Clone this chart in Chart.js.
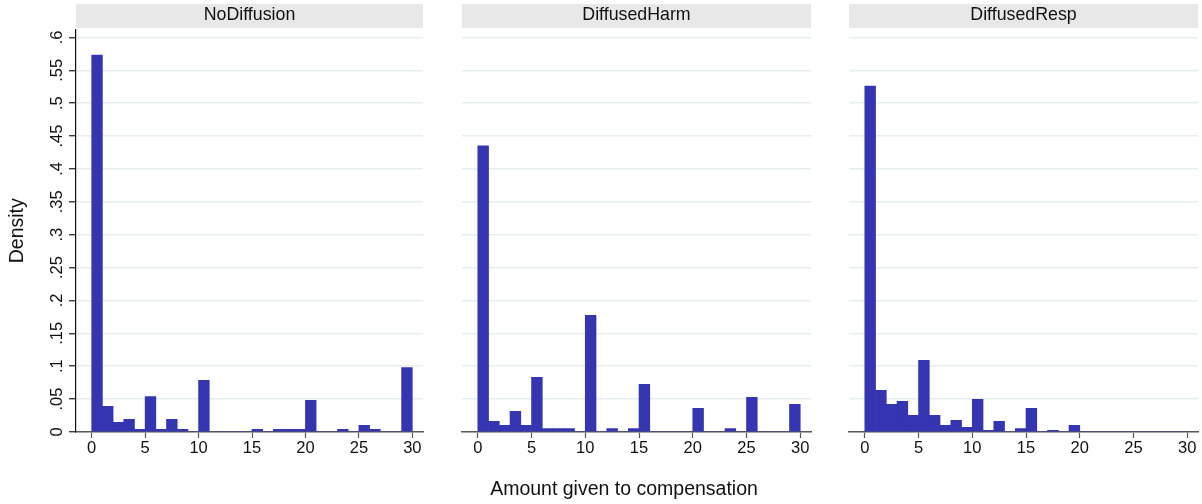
<!DOCTYPE html>
<html>
<head>
<meta charset="utf-8">
<title>Amount given to compensation</title>
<script src="https://cdn.jsdelivr.net/npm/chart.js@4.4.1/dist/chart.umd.min.js"></script>
<style>
  html, body { margin: 0; padding: 0; background: #ffffff; }
  #wrap { position: relative; width: 1202px; height: 504px; overflow: hidden; background: #ffffff; }
  #wrap canvas { position: absolute; left: 0; top: 0; }
</style>
</head>
<body>
<div id="wrap">
  <canvas id="panel1" width="1202" height="504"></canvas>
  <canvas id="panel2" width="1202" height="504"></canvas>
  <canvas id="panel3" width="1202" height="504"></canvas>
</div>
<script>
// Histogram bins (width 1, lower edges)
const binStarts = [0, 1, 2, 3, 4, 5, 6, 7, 8, 9, 10, 11, 12, 13, 14,
                   15, 16, 17, 18, 19, 20, 21, 22, 23, 24, 25, 26, 27, 28, 29];
const binWidth = 1;

// Density per bin for each treatment
const noDiffusion = [0.573, 0.039, 0.0148, 0.0193, 0.0041, 0.054, 0.0041, 0.0193, 0.0041, 0,
                     0.0787, 0, 0, 0, 0, 0.0041, 0, 0.0041, 0.0041, 0.0041,
                     0.048, 0, 0, 0.0041, 0, 0.0102, 0.0041, 0, 0, 0.098];
const diffusedHarm = [0.435, 0.0163, 0.0102, 0.0315, 0.0102, 0.0832, 0.0051, 0.0051, 0.0051, 0,
                      0.1775, 0, 0.0051, 0, 0.0051, 0.0726, 0, 0, 0, 0,
                      0.036, 0, 0, 0.0051, 0, 0.0528, 0, 0, 0, 0.042];
const diffusedResp = [0.526, 0.0634, 0.042, 0.0467, 0.0254, 0.109, 0.0254, 0.0102, 0.0178, 0.0071,
                      0.0497, 0.0025, 0.0163, 0, 0.0051, 0.036, 0, 0.0025, 0, 0.0102,
                      0, 0, 0, 0, 0, 0, 0, 0, 0, 0];

const panelTitles = ['NoDiffusion', 'DiffusedHarm', 'DiffusedResp'];
const panelSeries = [noDiffusion, diffusedHarm, diffusedResp];

// Axis ticks
const yTickValues = [0, 0.05, 0.1, 0.15, 0.2, 0.25, 0.3, 0.35, 0.4, 0.45, 0.5, 0.55, 0.6];
const yTickLabels = ['0', '.05', '.1', '.15', '.2', '.25', '.3', '.35', '.4', '.45', '.5', '.55', '.6'];
const xTickValues = [0, 5, 10, 15, 20, 25, 30];

const yAxisTitle = 'Density';
const xAxisTitle = 'Amount given to compensation';

// Layout of the three plot regions (pixels)
const W = 1202, H = 504;
const panelBounds = [[76, 423], [462, 811], [849, 1198]];
const plotTop = 29.5, plotBottom = 432, xAxisHeight = 30;

const FONT = "'Liberation Sans', Arial, Helvetica, sans-serif";
const barColor = 'rgb(53,53,178)';
const gridColor = '#e5eef0';
const yTickLen = 7;

// Grey strip with the panel name above each plot region
const panelHeader = {
  id: 'panelHeader',
  afterDraw(chart, args, opts) {
    const { ctx, chartArea } = chart;
    ctx.save();
    ctx.fillStyle = '#e8e8e8';
    ctx.fillRect(chartArea.left, 4, chartArea.right - chartArea.left, 24);
    ctx.fillStyle = '#111111';
    ctx.font = '17.8px ' + FONT;
    ctx.textAlign = 'center';
    ctx.textBaseline = 'alphabetic';
    ctx.fillText(opts.text, (chartArea.left + chartArea.right) / 2, 19.5);
    ctx.restore();
  }
};

// Shared x-axis title under all panels
const sharedXTitle = {
  id: 'sharedXTitle',
  afterDraw(chart, args, opts) {
    if (!opts.text) return;
    const { ctx } = chart;
    ctx.save();
    ctx.fillStyle = '#111111';
    ctx.font = '19.5px ' + FONT;
    ctx.textAlign = 'center';
    ctx.textBaseline = 'alphabetic';
    ctx.fillText(opts.text, opts.x, opts.y);
    ctx.restore();
  }
};

function makePanel(canvasId, idx) {
  const first = idx === 0;
  const [left, right] = panelBounds[idx];
  const values = panelSeries[idx];
  const points = binStarts.map((b, i) => ({ x: b + binWidth / 2, y: values[i] }));

  return new Chart(document.getElementById(canvasId), {
    type: 'bar',
    data: {
      datasets: [{
        data: points,
        backgroundColor: barColor,
        borderWidth: 0,
        barPercentage: 1,
        categoryPercentage: 1
      }]
    },
    plugins: [panelHeader, sharedXTitle],
    options: {
      responsive: false,
      animation: false,
      devicePixelRatio: 1,
      layout: {
        padding: {
          left: first ? 0 : left,
          right: W - right,
          top: plotTop,
          bottom: H - plotBottom - xAxisHeight
        }
      },
      plugins: {
        legend: { display: false },
        tooltip: { enabled: false },
        title: { display: false },
        panelHeader: { text: panelTitles[idx] },
        sharedXTitle: idx === 2 ? { text: xAxisTitle, x: 624, y: 495 } : { text: '' }
      },
      scales: {
        x: {
          type: 'linear',
          offset: false,
          min: -1.47,
          max: 31.0,
          afterBuildTicks: (s) => { s.ticks = xTickValues.map(v => ({ value: v })); },
          afterFit: (s) => { s.height = xAxisHeight; },
          grid: {
            offset: false,
            drawOnChartArea: false,
            drawTicks: true,
            tickLength: 6,
            tickColor: '#555555',
            tickWidth: 1.2
          },
          border: { display: true, color: '#5a5a5a', width: 1.5 },
          ticks: {
            autoSkip: false,
            maxRotation: 0,
            padding: 1,
            color: '#111111',
            font: { family: FONT, size: 16.5 }
          }
        },
        y: {
          type: 'linear',
          min: 0,
          max: 0.612,
          afterBuildTicks: (s) => { s.ticks = yTickValues.map(v => ({ value: v })); },
          afterFit: (s) => { s.width = first ? left : 0; },
          grid: {
            color: gridColor,
            lineWidth: 1.5,
            drawTicks: first,
            tickLength: yTickLen,
            tickColor: '#1a1a1a',
            tickWidth: 1.2
          },
          border: { display: first, color: '#111111', width: 1.2 },
          title: {
            display: first,
            text: yAxisTitle,
            color: '#111111',
            font: { family: FONT, size: 19.5 },
            padding: { top: 6, bottom: 0 }
          },
          ticks: {
            display: first,
            autoSkip: false,
            minRotation: 90,
            maxRotation: 90,
            crossAlign: 'center',
            padding: 0,
            color: '#111111',
            font: { family: FONT, size: 16.5 },
            callback: (value, index) => yTickLabels[index]
          }
        }
      }
    }
  });
}

makePanel('panel1', 0);
makePanel('panel2', 1);
makePanel('panel3', 2);
</script>
</body>
</html>
